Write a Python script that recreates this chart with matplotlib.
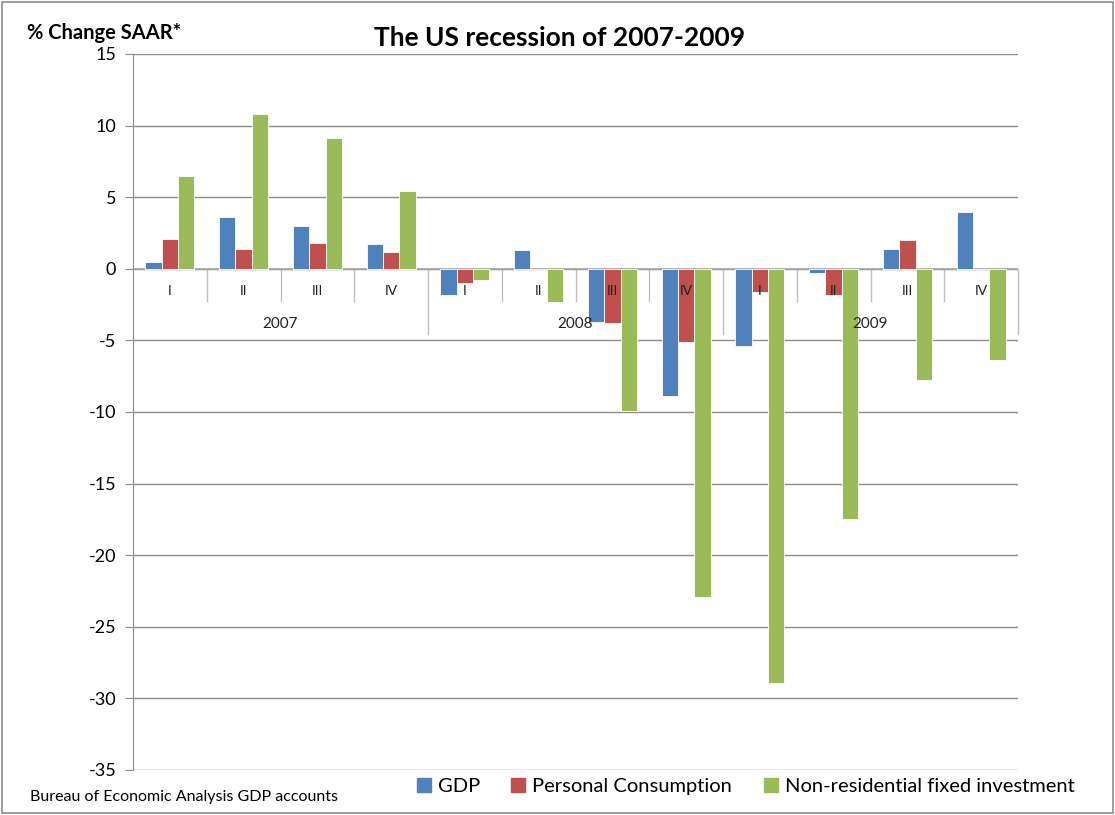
import matplotlib
matplotlib.use("Agg")
import matplotlib.pyplot as plt
from matplotlib.patches import Rectangle
import numpy as np

years = ["2007", "2008", "2009"]
quarters = ["I", "II", "III", "IV"]
gdp = [0.5, 3.6, 3.0, 1.7, -1.8, 1.3, -3.7, -8.9, -5.4, -0.3, 1.4, 4.0]
consumption = [2.1, 1.4, 1.8, 1.2, -1.0, -0.1, -3.8, -5.1, -1.6, -1.8, 2.0, 0.0]
investment = [6.5, 10.8, 9.1, 5.4, -0.8, -2.3, -9.9, -22.9, -28.9, -17.5, -7.8, -6.4]
series_names = ["GDP", "Personal Consumption", "Non-residential fixed investment"]
colors = ["#4F81BD", "#C0504D", "#9BBB59"]
yticks = list(range(-35, 20, 5))

W, H = 1115, 815
fig = plt.figure(figsize=(W / 100, H / 100), dpi=100)
plt.rcParams['font.family'] = ['Lato', 'DejaVu Sans']

# outer border
fig.patches.append(Rectangle((2 / W, 2 / H), 1 - 4 / W, 1 - 4 / H, transform=fig.transFigure,
                             fill=False, edgecolor="#8c8c8c", linewidth=1.2))

L, R, T, B = 133, 1018, 54, 770
ax = fig.add_axes([L / W, 1 - B / H, (R - L) / W, (B - T) / H])

n = len(gdp)
x = np.arange(n)
bw = 0.222
for i, (vals, c) in enumerate(zip([gdp, consumption, investment], colors)):
    ax.bar(x + (i - 1) * bw, vals, width=bw, color=c, edgecolor="white", linewidth=0.6,
           zorder=3, label=series_names[i])

ax.set_xlim(-0.5, n - 0.5)
ax.set_ylim(-35, 15)
ax.set_yticks(yticks)
ax.set_yticklabels([str(t) for t in yticks], fontsize=13)
ax.tick_params(axis="y", length=6, color="#8c8c8c", pad=6)
ax.set_xticks([])
ax.grid(axis="y", color="#8c8c8c", linewidth=1.0, zorder=0)
for s in ["top", "right", "bottom"]:
    ax.spines[s].set_visible(False)
ax.spines["left"].set_color("#8c8c8c")

# category axis at zero
ax.axhline(0, color="#a6a6a6", linewidth=1.2, zorder=2)
ppu = (B - T) / 50.0
short = 32 / ppu
long = 65 / ppu
for k in range(1, n + 1):
    xb = k - 0.5
    depth = long if k % 4 == 0 else short
    ax.plot([xb, xb], [0, -depth], color="#bfbfbf", linewidth=1.0, zorder=1, clip_on=False)
for k in range(n):
    ax.text(k, -22 / ppu, quarters[k % 4], ha="center", va="center", fontsize=10,
            color="#222222", zorder=5)
for j, yr in enumerate(years):
    ax.text(j * 4 + 1.5, -55 / ppu, yr, ha="center", va="center", fontsize=11,
            color="#222222", zorder=5)

fig.text(560 / W, 1 - 38 / H, "The US recession of 2007-2009", ha="center", va="center",
         fontsize=19, fontweight="bold")
fig.text(27 / W, 1 - 33 / H, "% Change SAAR*", ha="left", va="center",
         fontsize=14.5, fontweight="bold")
fig.text(30 / W, 1 - 797 / H, "Bureau of Economic Analysis GDP accounts", ha="left",
         va="center", fontsize=11.5)

handles = [plt.Line2D([], [], marker="s", linestyle="", markersize=10, color=c) for c in colors]
fig.legend(handles, series_names, loc="center", bbox_to_anchor=(745 / W, 1 - 786 / H), ncol=3,
           frameon=False, fontsize=14.5, handletextpad=0.3, columnspacing=1.5, handlelength=0.8)

fig.savefig("out.png", dpi=100)
